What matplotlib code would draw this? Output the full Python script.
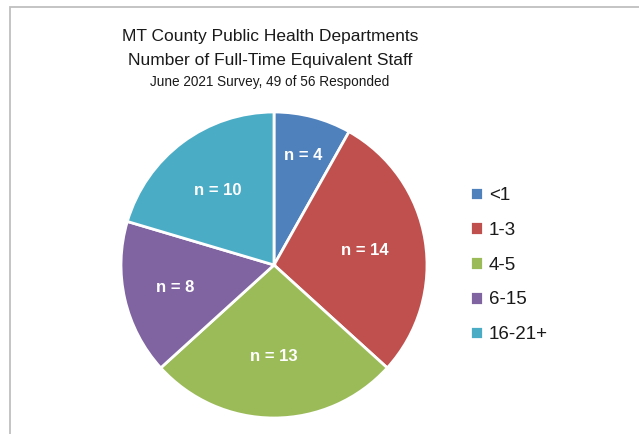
import numpy as np
import matplotlib
matplotlib.use("Agg")
import matplotlib.pyplot as plt
from matplotlib.patches import Rectangle

plt.rcParams['font.family'] = ['Liberation Sans', 'DejaVu Sans']

categories = ["<1", "1-3", "4-5", "6-15", "16-21+"]
counts = [4, 14, 13, 8, 10]
colors = ["#4F81BD", "#C0504D", "#9BBB59", "#8064A2", "#4BACC6"]
label_dist = [0.74, 0.60, 0.60, 0.66, 0.61]

W, H = 639, 434
fig = plt.figure(figsize=(W / 100, H / 100), dpi=100)
fig.patch.set_facecolor("white")

# outer chart border (only left and top visible in the crop)
fig.add_artist(Rectangle((10 / W, -0.1), 1.2, (H - 7) / H + 0.1, transform=fig.transFigure,
                         fill=False, edgecolor="#BFBFBF", linewidth=1.3))

cx, cy, r = 274, 265, 153
ax = fig.add_axes([(cx - r) / W, (H - cy - r) / H, 2 * r / W, 2 * r / H])
wedges, _ = ax.pie(counts, colors=colors, startangle=90, counterclock=False,
                   wedgeprops=dict(edgecolor="white", linewidth=2))
ax.set_xlim(-1, 1)
ax.set_ylim(-1, 1)
ax.set_aspect("equal")
ax.axis("off")

for w, n, d in zip(wedges, counts, label_dist):
    ang = np.deg2rad((w.theta1 + w.theta2) / 2)
    ax.text(d * np.cos(ang), d * np.sin(ang), f"n = {n}", color="white",
            fontsize=12, fontweight="bold", ha="center", va="center")

fig.text(270 / W, 1 - 36 / H, "MT County Public Health Departments",
         ha="center", va="center", fontsize=12.5, color="#1a1a1a")
fig.text(270 / W, 1 - 60 / H, "Number of Full-Time Equivalent Staff",
         ha="center", va="center", fontsize=12.5, color="#1a1a1a")
fig.text(270 / W, 1 - 82 / H, "June 2021 Survey, 49 of 56 Responded",
         ha="center", va="center", fontsize=9.8, color="#1a1a1a")

fig.legend(wedges, categories, loc="center left", bbox_to_anchor=(453 / W, 1 - 265 / H),
           frameon=False, fontsize=13.5, handlelength=0.7, handleheight=0.7,
           handletextpad=0.3, labelspacing=0.95, labelcolor="#1a1a1a")

fig.savefig("out.png", dpi=100)
